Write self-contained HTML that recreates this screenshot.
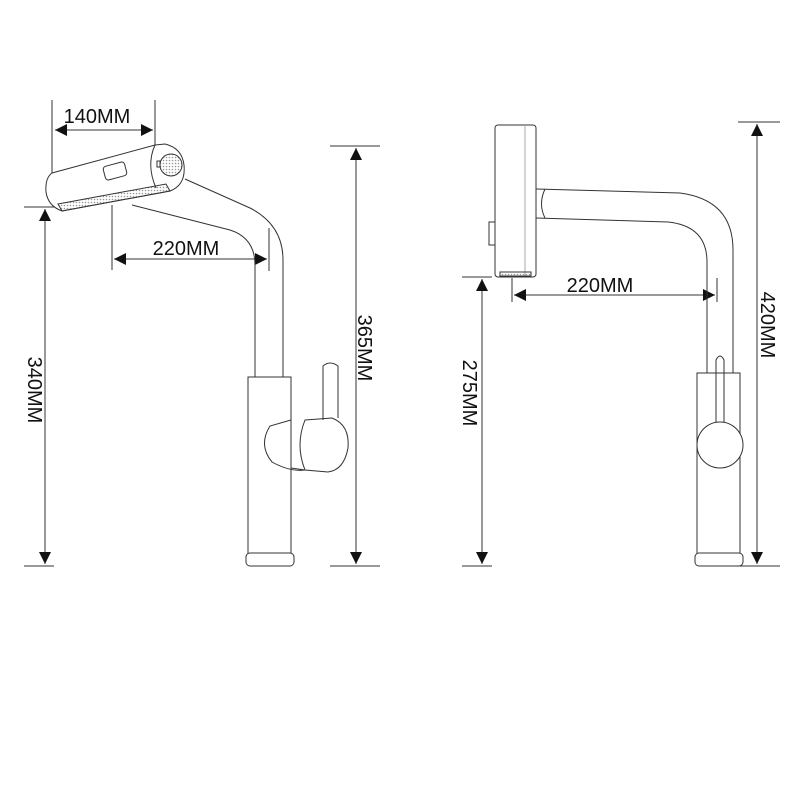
<!DOCTYPE html>
<html><head><meta charset="utf-8"><style>
html,body{margin:0;padding:0;background:#fff}
svg{display:block}
text{font-family:"Liberation Sans",sans-serif;font-size:20px;fill:#111}
</style></head><body>
<svg width="800" height="800" viewBox="0 0 800 800" xmlns="http://www.w3.org/2000/svg">
<defs>
<marker id="a" viewBox="0 0 10 10" refX="10" refY="5" markerWidth="12" markerHeight="12" markerUnits="userSpaceOnUse" orient="auto-start-reverse"><path d="M0,0 L10,5 L0,10 z" fill="#111"/></marker>
<pattern id="dots" width="3" height="3" patternUnits="userSpaceOnUse"><circle cx="1.5" cy="1.5" r="0.8" fill="#999"/></pattern>
</defs>
<g stroke="#333" stroke-width="1" fill="none">
<!-- LEFT dimension lines -->
<line x1="52" y1="100" x2="52" y2="175"/>
<line x1="155" y1="100" x2="155" y2="145"/>
<line x1="55" y1="130" x2="153" y2="130" marker-start="url(#a)" marker-end="url(#a)"/>
<line x1="112" y1="205" x2="112" y2="270"/>
<line x1="269" y1="228" x2="269" y2="271"/>
<line x1="114" y1="259" x2="267" y2="259" marker-start="url(#a)" marker-end="url(#a)"/>
<line x1="24" y1="207" x2="54" y2="207"/>
<line x1="24" y1="566" x2="54" y2="566"/>
<line x1="45" y1="209" x2="45" y2="564" marker-start="url(#a)" marker-end="url(#a)"/>
<line x1="330" y1="146" x2="380" y2="146"/>
<line x1="330" y1="566" x2="380" y2="566"/>
<line x1="356" y1="148" x2="356" y2="564" marker-start="url(#a)" marker-end="url(#a)"/>
<!-- LEFT faucet pipe -->
<path d="M185,179 L250,208 Q283,225 283,260 L283,377"/>
<path d="M132,205 L230,230 Q255,238 255,265 L255,377"/>
<!-- head -->
<path d="M52,173 Q45,178 46,192 Q48,206 62,211 L170,191 Q186,185 184,165 Q182,148 165,144 L155,145 Z" fill="#fff"/>
<path d="M62,211 L170,191 L166,184 L58,204 Z" fill="url(#dots)"/>
<path d="M155,145 Q146,165 156,188"/>
<circle cx="171" cy="165" r="11" fill="url(#dots)"/>
<rect x="157" y="161" width="3" height="6"/>
<rect x="104" y="164" width="22" height="14" rx="3" transform="rotate(-15 115 171)"/>
<!-- body -->
<rect x="248" y="377" width="43" height="178" fill="#fff"/>
<rect x="246" y="553" width="48" height="13" rx="4" fill="#fff"/>
<path d="M291,420 L270,426 Q258,445 272,462 Q290,472 305,470 L291,468"/>
<path d="M305,420 L332,418 Q350,425 348,448 Q344,470 328,472 L305,470 Q295,445 305,420 Z" fill="#fff"/>
<path d="M323,420 L323,366 Q330,360 338,366 L338,418"/>
<!-- RIGHT dimension lines -->
<line x1="512" y1="278" x2="512" y2="302"/>
<line x1="717" y1="278" x2="717" y2="302"/>
<line x1="514" y1="295" x2="715" y2="295" marker-start="url(#a)" marker-end="url(#a)"/>
<line x1="462" y1="277" x2="492" y2="277"/>
<line x1="462" y1="566" x2="492" y2="566"/>
<line x1="482" y1="279" x2="482" y2="564" marker-start="url(#a)" marker-end="url(#a)"/>
<line x1="738" y1="122" x2="780" y2="122"/>
<line x1="738" y1="566" x2="780" y2="566"/>
<line x1="757" y1="124" x2="757" y2="564" marker-start="url(#a)" marker-end="url(#a)"/>
<!-- RIGHT faucet -->
<path d="M536,189 L680,193 Q733,200 733,250 L733,373"/>
<path d="M536,218 L668,222 Q707,226 707,262 L707,373"/>
<path d="M545,189 Q538,204 545,218"/>
<rect x="495" y="125" width="41" height="152" rx="3" fill="#fff"/>
<line x1="525" y1="126" x2="525" y2="276" stroke="#aaa"/>
<rect x="489" y="222" width="6" height="23"/>
<rect x="500" y="272" width="31" height="4" fill="url(#dots)"/>
<rect x="697" y="373" width="43" height="182" fill="#fff"/>
<rect x="695" y="553" width="48" height="13" rx="4" fill="#fff"/>
<path d="M716,423 L716,360 Q720,352 724,360 L724,423"/>
<circle cx="720" cy="445" r="23" fill="#fff"/>
</g>
<text x="97" y="123" text-anchor="middle">140MM</text>
<text x="186" y="255" text-anchor="middle">220MM</text>
<text x="600" y="292" text-anchor="middle">220MM</text>
<text transform="translate(28,390) rotate(90)" text-anchor="middle">340MM</text>
<text transform="translate(358,348) rotate(90)" text-anchor="middle">365MM</text>
<text transform="translate(463,393) rotate(90)" text-anchor="middle">275MM</text>
<text transform="translate(761,325) rotate(90)" text-anchor="middle">420MM</text>
</svg>
</body></html>
